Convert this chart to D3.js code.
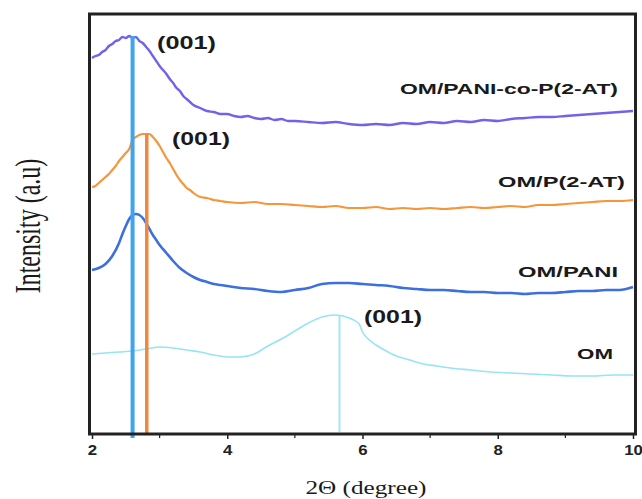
<!DOCTYPE html>
<html><head><meta charset="utf-8">
<script src="https://cdn.jsdelivr.net/npm/d3@7"></script>
<style>body{margin:0;background:#fff}svg{display:block}</style>
</head><body><svg id="c" width="642" height="499"></svg>
<script>
// 2θ positions
const thetaPANIcoPAT = [2.0,2.05,2.1,2.15,2.2,2.25,2.3,2.35,2.4,2.45,2.5,2.55,2.6,2.65,2.7,2.75,2.8,2.85,2.9,2.95,3.0,3.05,3.1,3.15,3.2,3.25,3.3,3.35,3.4,3.45,3.5,3.6,3.7,3.8,3.9,4.0,4.1,4.2,4.3,4.4,4.5,4.6,4.7,4.8,4.9,5.0,5.2,5.4,5.6,5.8,6.0,6.2,6.4,6.6,6.8,7.0,7.2,7.4,7.6,7.8,8.0,8.2,8.4,8.6,8.8,9.0,9.2,9.4,9.6,9.8,10.0];
const intPANIcoPAT = [376,378,379,382,384,388,390,393,394,397,396,398,396,397,393,391,387,383,378,373,368,364,360,355,351,346,343,338,335,332,329,326,323,322,320,320,318,317,318,316,315,316,314,315,313,313,312,311,312,310,309,310,309,311,310,312,311,313,312,314,313,315,316,317,317,318,319,320,321,322,323];

const thetaPAT = [2.0,2.05,2.1,2.15,2.2,2.25,2.3,2.35,2.4,2.45,2.5,2.55,2.6,2.65,2.7,2.75,2.8,2.85,2.9,2.95,3.0,3.05,3.1,3.15,3.2,3.25,3.3,3.35,3.4,3.45,3.5,3.6,3.7,3.8,3.9,4.0,4.2,4.4,4.6,4.8,5.0,5.2,5.4,5.6,5.8,6.0,6.2,6.4,6.6,6.8,7.0,7.2,7.4,7.6,7.8,8.0,8.2,8.4,8.6,8.8,9.0,9.2,9.4,9.6,9.8,10.0];
const intPAT = [247,248,251,254,257,260,264,268,273,277,281,285,294,297,299,300,300,300,297,293,288,282,276,271,265,259,254,250,246,244,241,237,236,234,233,232,231,232,230,230,229,228,227,228,226,226,227,225,226,225,226,225,226,227,226,227,228,227,229,229,230,231,232,233,233,234];

const thetaPANI = [2.0,2.1,2.2,2.3,2.4,2.45,2.5,2.55,2.6,2.65,2.7,2.75,2.8,2.85,2.9,2.95,3.0,3.1,3.2,3.3,3.4,3.5,3.6,3.7,3.8,3.9,4.0,4.2,4.4,4.6,4.8,5.0,5.2,5.4,5.6,5.8,6.0,6.2,6.4,6.6,6.8,7.0,7.2,7.4,7.6,7.8,8.0,8.2,8.4,8.6,8.8,9.0,9.2,9.4,9.6,9.8,10.0];
const intPANI = [164,166,170,178,191,200,208,215,219,220,219,216,211,205,199,194,189,181,173,166,161,157,154,152,150,149,148,146,145,143,142,144,146,150,151,151,150,149,148,146,145,144,144,143,142,142,141,141,140,141,141,142,143,143,144,144,147];

const thetaOM = [2.0,2.2,2.4,2.6,2.8,3.0,3.2,3.4,3.6,3.8,4.0,4.2,4.4,4.6,4.8,5.0,5.2,5.4,5.6,5.8,5.95,6.0,6.1,6.2,6.35,6.5,6.7,6.9,7.1,7.3,7.6,7.9,8.2,8.5,8.8,9.1,9.4,9.7,10.0];
const intOM = [80,81,82,83,85,87,86,84,82,79,77,77,80,88,95,103,111,117,119,116,110,102,94,89,83,78,74,70,68,66,64,62,61,60,59,58,58,59,59];

const seriesNames = ["OM/PANI-co-P(2-AT)","OM/P(2-AT)","OM/PANI","OM"];
const peakTheta = [2.6, 2.81, 5.66];
const peakTop = [398, 300, 118];
const peakBottom = [-4, 0, 2];
const peakLabel = ["(001)","(001)","(001)"];
const xTicks = [2,4,6,8,10];
const xMinorTicks = [3,5,7,9];
const xTitle = "2Θ (degree)";
const yTitle = "Intensity (a.u)";

const svg = d3.select("#c");
const x = d3.scaleLinear().domain([2,10]).range([92,633]);
const y = d3.scaleLinear().domain([0,420]).range([434,14]);

const colors = ["#7163e9","#f7953a","#3d6fe0","#97e4f4"];
const widths = [2.4,2.2,2.6,1.6];
const data = [
  d3.zip(thetaPANIcoPAT,intPANIcoPAT),
  d3.zip(thetaPAT,intPAT),
  d3.zip(thetaPANI,intPANI),
  d3.zip(thetaOM,intOM)
];
const line = d3.line().x(d=>x(d[0])).y(d=>y(d[1])).curve(d3.curveMonotoneX);
data.forEach((d,i)=>{
  svg.append("path").attr("d",line(d)).attr("fill","none")
    .attr("stroke",colors[i]).attr("stroke-width",widths[i]).attr("stroke-linejoin","round");
});

// peak markers
const peakColors = ["#3fa4ef","#f0883f","#a6e6f4"];
const peakWidths = [4,3.5,2];
peakTheta.forEach((t,i)=>{
  svg.append("line").attr("x1",x(t)).attr("x2",x(t))
    .attr("y1",y(peakTop[i])).attr("y2",y(peakBottom[i]))
    .attr("stroke",peakColors[i]).attr("stroke-width",peakWidths[i]);
});

// frame
svg.append("rect").attr("x",89.5).attr("y",14).attr("width",546).attr("height",420)
  .attr("fill","none").attr("stroke","#222").attr("stroke-width",3);

// axis
const ax = svg.append("g").attr("transform","translate(0,435)")
  .call(d3.axisBottom(x).tickValues(xTicks).tickSize(4).tickFormat(d3.format("d")));
ax.select(".domain").remove();
ax.selectAll(".tick line").attr("stroke","#222").attr("stroke-width",1.5);
ax.selectAll(".tick text").attr("font-family","Liberation Sans, Arial, sans-serif")
  .attr("font-weight","bold").attr("font-size",14).attr("fill","#222").attr("y",10)
  .attr("transform","scale(1.2,1)");
svg.append("g").attr("transform","translate(0,435)").selectAll("line").data(xMinorTicks).join("line")
  .attr("x1",d=>x(d)).attr("x2",d=>x(d)).attr("y1",0).attr("y2",3)
  .attr("stroke","#222").attr("stroke-width",1.2);

function stretchText(txt, cx, baseline, size, len, opts={}){
  return svg.append("text").text(txt)
    .attr("x",cx - len/2).attr("y",baseline)
    .attr("textLength",len).attr("lengthAdjust","spacingAndGlyphs")
    .attr("font-family",opts.family||"Liberation Sans, Arial, sans-serif")
    .attr("font-weight",opts.weight||"bold").attr("font-size",size)
    .attr("fill",opts.fill||"#1a1a1a");
}

// series labels (right side)
const labelBox = [[400,618,94],[498,625,187],[518,618,277],[577,613,359]];
seriesNames.forEach((n,i)=>{
  const b = labelBox[i];
  stretchText(n,(b[0]+b[1])/2,b[2],15,b[1]-b[0]);
});
// peak labels
const peakBox = [[157,216,49],[172,230,145],[364,422,323]];
peakLabel.forEach((n,i)=>{
  const b = peakBox[i];
  stretchText(n,(b[0]+b[1])/2,b[2],18,b[1]-b[0]);
});

// axis titles
stretchText(xTitle,366,494,18,121,{family:"Liberation Serif, Times New Roman, serif",weight:"normal"});
svg.append("text").text(yTitle)
  .attr("transform","translate(40,226) scale(1.5,1) rotate(-90)")
  .attr("text-anchor","middle").attr("x",0).attr("y",0)
  .attr("font-family","Liberation Serif, Times New Roman, serif").attr("font-size",24)
  .attr("fill","#1a1a1a");
</script></body></html>
